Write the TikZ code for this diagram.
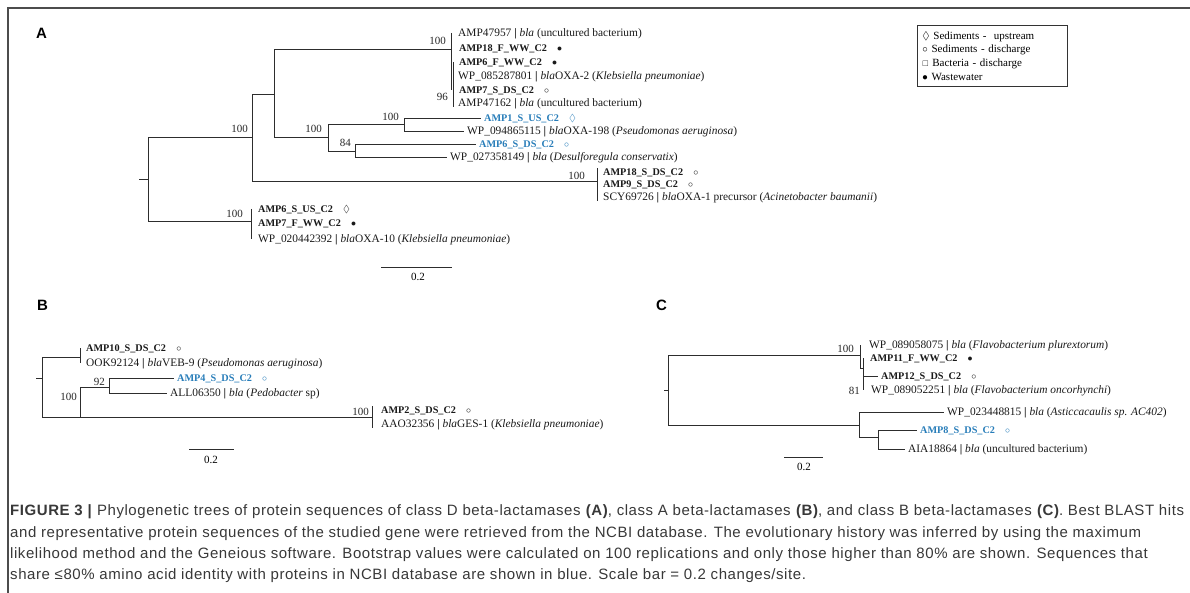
\documentclass[tikz,border=0pt]{standalone}
\usepackage{amssymb}
\usepackage{fontspec}
\setmainfont{Liberation Serif}
\newfontfamily\capfont[LetterSpace=3.8]{Liberation Sans}
\newfontfamily\tagfont{Liberation Sans}
\definecolor{novelblue}{RGB}{40,125,185}
\definecolor{treeline}{RGB}{45,45,45}
\newcommand{\idbar}{\ {\bfseries\textbar}\ }
\newcommand{\mkup}{\quad$\lozenge$}
\newcommand{\mkds}{\quad$\circ$}
\newcommand{\mkww}{\quad$\bullet$}

\begin{document}
\begin{tikzpicture}[x=1pt,y=1pt,yscale=-1,
  branch/.style={draw=treeline, line width=0.9pt},
  seqlabel/.style={anchor=west, inner xsep=3pt, inner ysep=0pt, text height=7.5pt, text depth=0pt, font=\fontsize{11.4}{13}\selectfont, text=black!90},
  isolate/.style={seqlabel, font=\fontsize{10.2}{12}\selectfont\bfseries},
  novel/.style={isolate, text=novelblue},
  boot/.style={anchor=base east, inner sep=0pt, font=\fontsize{11}{12}\selectfont, text=black!85},
  scalelbl/.style={anchor=base, inner sep=0pt, font=\fontsize{11}{12}\selectfont},
  panel/.style={anchor=base west, inner sep=0pt, font=\tagfont\fontsize{15}{18}\selectfont\bfseries},
  capline/.style={anchor=base west, inner sep=0pt, font=\capfont\fontsize{15}{18}\selectfont, text=black!78}]
\useasboundingbox (0,0) rectangle (1190,593);

\coordinate (fr0) at (8,593);
\coordinate (fr1) at (8,8);
\coordinate (fr2) at (1190,8);
\draw[black!70, line width=1.3pt] (fr0) -- (fr1) -- (fr2);

\node[panel] (tagA) at (36,39) {A};
\coordinate (stubA) at (139,179);
\coordinate (ra) at (148,179);
\coordinate (na1) at (252,137);
\coordinate (na2) at (274,94);
\coordinate (na3) at (451,49);
\coordinate (na4) at (328,137);
\coordinate (na5) at (404,124);
\coordinate (na6) at (355,151);
\coordinate (na7) at (597,181);
\coordinate (na8) at (251,221);
\node[seqlabel] (la1) at (455,33) {AMP47957\idbar\textit{bla} (uncultured bacterium)};
\node[isolate] (la2) at (456,48) {AMP18\_F\_WW\_C2\mkww};
\node[isolate] (la3) at (456,62) {AMP6\_F\_WW\_C2\mkww};
\node[seqlabel] (la4) at (455,76) {WP\_085287801\idbar\textit{bla}OXA-2 (\textit{Klebsiella pneumoniae})};
\node[isolate] (la5) at (456,90) {AMP7\_S\_DS\_C2\mkds};
\node[seqlabel] (la6) at (455,103) {AMP47162\idbar\textit{bla} (uncultured bacterium)};
\node[novel] (la7) at (481,118) {AMP1\_S\_US\_C2\mkup};
\node[seqlabel] (la8) at (464,131) {WP\_094865115\idbar\textit{bla}OXA-198 (\textit{Pseudomonas aeruginosa})};
\node[novel] (la9) at (476,144) {AMP6\_S\_DS\_C2\mkds};
\node[seqlabel] (la10) at (447,157) {WP\_027358149\idbar\textit{bla} (\textit{Desulforegula conservatix})};
\node[isolate] (la11) at (600,172) {AMP18\_S\_DS\_C2\mkds};
\node[isolate] (la12) at (600,184) {AMP9\_S\_DS\_C2\mkds};
\node[seqlabel] (la13) at (600,197) {SCY69726\idbar\textit{bla}OXA-1 precursor (\textit{Acinetobacter baumanii})};
\node[isolate] (la14) at (255,209) {AMP6\_S\_US\_C2\mkup};
\node[isolate] (la15) at (255,223) {AMP7\_F\_WW\_C2\mkww};
\node[seqlabel] (la16) at (255,239) {WP\_020442392\idbar\textit{bla}OXA-10 (\textit{Klebsiella pneumoniae})};
\draw[branch] (stubA) -- (ra);
\draw[branch] (ra) |- (na1) (ra) |- (na8);
\draw[branch] (na1) |- (na2) (na1) |- (na7);
\draw[branch] (na2) |- (na3) (na2) |- (na4);
\draw[branch] (na3 |- la1.west) -- (na3 |- la5.west);
\draw[branch] ([xshift=2pt]na3 |- la3.west) -- ([xshift=2pt]na3 |- la6.south);
\draw[branch] (na4) |- (na5) (na4) |- (na6);
\draw[branch] (na5) |- (la7.west) (na5) |- (la8.west);
\draw[branch] (na6) |- (la9.west) (na6) |- (la10.west);
\draw[branch] (na7 |- la11.north) -- (na7 |- la13.south);
\draw[branch] (na8 |- la14.west) -- (na8 |- la16.west);
\node[boot] (ba1) at (248,133) {100};
\node[boot] (ba4) at (322,133) {100};
\node[boot] (ba5) at (399,121) {100};
\node[boot] (ba6) at (351,147) {84};
\node[boot] (ba3) at (446,45) {100};
\node[boot] (ba3s) at (448,101) {96};
\node[boot] (ba7) at (585,180) {100};
\node[boot] (ba8) at (243,218) {100};
\coordinate (sa0) at (381,267);
\coordinate (sa1) at (452,267);
\draw[branch] (sa0) -- (sa1);
\node[scalelbl] (sa) at (418,281) {0.2};

\node[draw=black!80, line width=0.9pt, anchor=north west, text width=140pt, inner xsep=5pt, inner ysep=6pt, align=left, font=\fontsize{11}{13.7}\selectfont] (key) at (917,25) {$\lozenge$ Sediments -\ \ upstream\\ $\circ$ Sediments - discharge\\ {\footnotesize$\square$} Bacteria - discharge\\ $\bullet$ Wastewater};

\node[panel] (tagB) at (37,310) {B};
\coordinate (stubB) at (36,378);
\coordinate (rb) at (42,378);
\coordinate (nb1) at (80,357);
\coordinate (nb2) at (80,417);
\coordinate (nb3) at (109,387);
\coordinate (nb4) at (372,417);
\node[isolate] (lb1) at (83,348) {AMP10\_S\_DS\_C2\mkds};
\node[seqlabel] (lb2) at (83,363) {OOK92124\idbar\textit{bla}VEB-9 (\textit{Pseudomonas aeruginosa})};
\node[novel] (lb3) at (174,378) {AMP4\_S\_DS\_C2\mkds};
\node[seqlabel] (lb4) at (167,393) {ALL06350\idbar\textit{bla} (\textit{Pedobacter} sp)};
\node[isolate] (lb5) at (378,410) {AMP2\_S\_DS\_C2\mkds};
\node[seqlabel] (lb6) at (378,424) {AAO32356\idbar\textit{bla}GES-1 (\textit{Klebsiella pneumoniae})};
\draw[branch] (stubB) -- (rb);
\draw[branch] (rb) |- (nb1) (rb) |- (nb2);
\draw[branch] (nb1 |- lb1.west) -- (nb1 |- lb2.west);
\draw[branch] (nb2) |- (nb3) (nb2) -- (nb4);
\draw[branch] (nb3) |- (lb3.west) (nb3) |- (lb4.west);
\draw[branch] (nb4 |- lb5.north) -- (nb4 |- lb6.south);
\node[boot] (bb2) at (77,400) {100};
\node[boot] (bb3) at (105,385) {92};
\node[boot] (bb4) at (369,415) {100};
\coordinate (sb0) at (189,449);
\coordinate (sb1) at (234,449);
\draw[branch] (sb0) -- (sb1);
\node[scalelbl] (sb) at (211,463) {0.2};

\node[panel] (tagC) at (656,310) {C};
\coordinate (stubC) at (664,390);
\coordinate (rc) at (668,390);
\coordinate (nc1) at (860,355);
\coordinate (nc2) at (863,368);
\coordinate (nc4) at (859,425);
\coordinate (nc5) at (878,437);
\node[seqlabel] (lc1) at (866,345) {WP\_089058075\idbar\textit{bla} (\textit{Flavobacterium plurextorum})};
\node[isolate] (lc2) at (867,358) {AMP11\_F\_WW\_C2\mkww};
\node[isolate] (lc3) at (878,376) {AMP12\_S\_DS\_C2\mkds};
\node[seqlabel] (lc4) at (868,390) {WP\_089052251\idbar\textit{bla} (\textit{Flavobacterium oncorhynchi})};
\node[seqlabel] (lc5) at (944,412) {WP\_023448815\idbar\textit{bla} (\textit{Asticcacaulis sp. AC402})};
\node[novel] (lc6) at (917,430) {AMP8\_S\_DS\_C2\mkds};
\node[seqlabel] (lc7) at (905,449) {AIA18864\idbar\textit{bla} (uncultured bacterium)};
\draw[branch] (stubC) -- (rc);
\draw[branch] (rc) |- (nc1) (rc) |- (nc4);
\draw[branch] (nc1 |- lc1.west) |- (nc2);
\draw[branch] (nc2 |- lc2.west) -- (nc2 |- lc4.west);
\draw[branch] (nc2 |- lc3.west) -- (lc3.west);
\draw[branch] (nc4) |- (lc5.west) (nc4) |- (nc5);
\draw[branch] (nc5) |- (lc6.west) (nc5) |- (lc7.west);
\node[boot] (bc1) at (854,352) {100};
\node[boot] (bc2) at (860,394) {81};
\coordinate (sc0) at (784,457);
\coordinate (sc1) at (823,457);
\draw[branch] (sc0) -- (sc1);
\node[scalelbl] (sc) at (804,470) {0.2};

\node[capline] (cap1) at (10,515) {\textbf{FIGURE 3 \textbar} Phylogenetic trees of protein sequences of class D beta-lactamases \textbf{(A)}, class A beta-lactamases \textbf{(B)}, and class B beta-lactamases \textbf{(C)}. Best BLAST hits};
\node[capline] (cap2) at (10,537) {and representative protein sequences of the studied gene were retrieved from the NCBI database. The evolutionary history was inferred by using the maximum};
\node[capline] (cap3) at (10,558) {likelihood method and the Geneious software. Bootstrap values were calculated on 100 replications and only those higher than 80\% are shown. Sequences that};
\node[capline] (cap4) at (10,579) {share ≤80\% amino acid identity with proteins in NCBI database are shown in blue. Scale bar = 0.2 changes/site.};
\end{tikzpicture}
\end{document}
